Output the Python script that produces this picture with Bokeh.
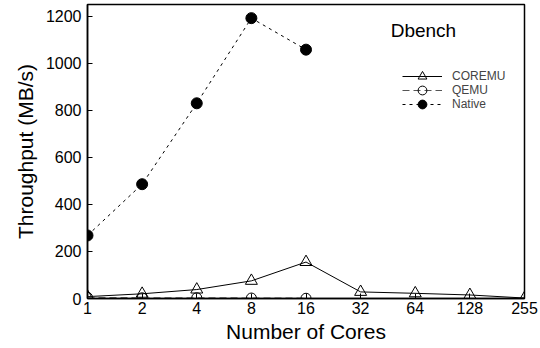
from bokeh.plotting import figure
from bokeh.models import Range1d, FixedTicker, Legend, LegendItem, Label
from bokeh.embed import file_html
from bokeh.resources import INLINE

cores = ["1", "2", "4", "8", "16", "32", "64", "128", "255"]
coremu = [8, 20, 38, 75, 155, 28, 22, 15, 2]
qemu_cores = ["1", "2", "4", "8", "16"]
qemu = [5, 3, 3, 2, 1]
native_cores = ["1", "2", "4", "8", "16"]
native = [268, 486, 830, 1192, 1058]
yticks = [0, 200, 400, 600, 800, 1000, 1200]

xi = {c: i for i, c in enumerate(cores)}

p = figure(width=540, height=348, output_backend="svg", toolbar_location=None,
           x_range=Range1d(0, len(cores) - 1), y_range=Range1d(0, 1250),
           min_border_left=87, min_border_right=16, min_border_top=4, min_border_bottom=50)
p.xgrid.visible = False
p.ygrid.visible = False
p.outline_line_color = "black"
p.outline_line_width = 1.5
p.outline_line_alpha = 1

FONT = "Liberation Sans"
for ax in (p.xaxis[0], p.yaxis[0]):
    ax.axis_line_color = "black"
    ax.axis_line_width = 1.5
    ax.major_tick_line_color = "black"
    ax.major_tick_in = 5
    ax.major_tick_out = 0
    ax.minor_tick_line_color = None
    ax.major_label_text_font = FONT
    ax.major_label_text_font_size = "16px"
    ax.major_label_text_color = "black"
    ax.axis_label_text_font = FONT
    ax.axis_label_text_font_size = "21px"
    ax.axis_label_text_font_style = "normal"
    ax.axis_label_text_color = "black"

p.xaxis.ticker = FixedTicker(ticks=list(range(len(cores))))
p.xaxis.major_label_overrides = {i: c for i, c in enumerate(cores)}
p.xaxis.major_label_standoff = 3
p.xaxis.axis_label = "Number of Cores"
p.xaxis.axis_label_standoff = 3
p.yaxis.ticker = FixedTicker(ticks=yticks)
p.yaxis.major_label_standoff = 6
p.yaxis.axis_label = "Throughput (MB/s)"
p.yaxis.axis_label_standoff = 6

xc = [xi[c] for c in cores]
xq = [xi[c] for c in qemu_cores]
xn = [xi[c] for c in native_cores]

l1 = p.line(xc, coremu, line_color="black", line_width=1)
m1 = p.scatter(xc, coremu, marker="triangle", size=12, fill_color="white", fill_alpha=0,
               line_color="black", line_width=1)
l2 = p.line(xq, qemu, line_color="#555555", line_width=1.2, line_dash="7 4")
m2 = p.scatter(xq, qemu, marker="circle", size=10, fill_color="white", fill_alpha=0,
               line_color="black", line_width=1)
l3 = p.line(xn, native, line_color="black", line_width=1, line_dash="3 4")
m3 = p.scatter(xn, native, marker="circle", size=11, fill_color="black", line_color="black")

entries = [("COREMU", [l1, m1]), ("QEMU", [l2, m2]), ("Native", [l3, m3])]
for k, (lab, rs) in enumerate(entries):
    lg = Legend(items=[LegendItem(label=lab, renderers=[rs[0], rs[1]])],
                location=(315, 211.5 - 14 * k), border_line_color=None,
                background_fill_alpha=0, label_text_font=FONT, label_text_font_size="12px",
                glyph_width=40, glyph_height=22, label_height=22, padding=0,
                margin=0, label_standoff=10)
    p.add_layout(lg)

p.add_layout(Label(x=5.55, y=1139, text="Dbench", text_font=FONT, text_font_size="19px",
                   text_baseline="middle", text_color="black"))

open("out.html", "w").write(file_html(p, INLINE))
